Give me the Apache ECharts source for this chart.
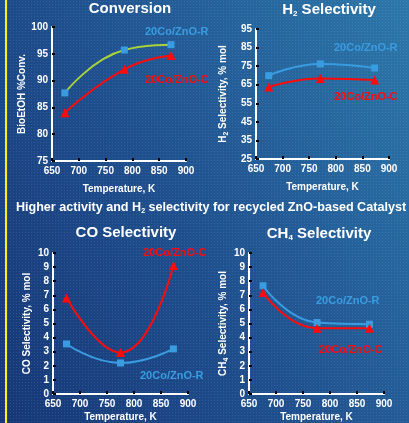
<!DOCTYPE html>
<html><head><meta charset="utf-8">
<script src="https://cdn.jsdelivr.net/npm/echarts@6/dist/echarts.min.js"></script>
<style>
html,body{margin:0;padding:0;width:409px;height:423px;overflow:hidden;}
body{background:linear-gradient(60deg,#163776 0%,#1f4f8e 45%,#2c78aa 100%);}
#dots{position:absolute;left:0;top:0;width:409px;height:423px;
background-image:radial-gradient(rgba(255,255,255,0.10) 0.8px,transparent 0.9px);background-size:3px 3px;}
#bar{position:absolute;left:5px;top:0;width:2px;height:423px;background:#fff000;}
#c{position:absolute;left:0;top:0;width:409px;height:423px;}
</style></head>
<body><div id="dots"></div><div id="bar"></div><div id="c"></div>
<script>
// ---- data ----
const xTicks = [650, 700, 750, 800, 850, 900];
const convX = [674, 785, 872];
const convR = [87.7, 95.7, 96.7];
const convC = [84.0, 92.1, 94.7];
const convTicks = [75, 80, 85, 90, 95, 100];
const h2X = [674, 771, 873];
const h2R = [69.9, 76.2, 74.0];
const h2C = [63.8, 68.4, 67.5];
const h2Ticks = [25, 35, 45, 55, 65, 75, 85, 95];
const coX = [675, 775, 873];
const coR = [3.55, 2.2, 3.2];
const coC = [6.8, 2.94, 9.12];
const ch4X = [676, 776, 873];
const ch4R = [7.68, 5.07, 4.95];
const ch4C = [7.2, 4.67, 4.67];
const selTicks = [0, 1, 2, 3, 4, 5, 6, 7, 8, 9, 10];
const nameR = '20Co/ZnO-R', nameC = '20Co/ZnO-C';

const BLUE = '#3a9ce0', RED = '#ff0a0a', GREEN = '#a8d23a';
const pair = (xs, ys) => xs.map((x, i) => [x, ys[i]]);
const chart = echarts.init(document.getElementById('c'));
const FONT = 'Liberation Sans, Arial, sans-serif';
const rich = { s: { fontSize: 7, fontWeight: 'bold', color: '#fff', padding: [6, 0, 0, 0], fontFamily: FONT } };

const grids = [
  { left: 52, top: 27, width: 134, height: 134 },
  { left: 256, top: 29, width: 133, height: 130 },
  { left: 53, top: 253, width: 135, height: 141 },
  { left: 249, top: 253, width: 135, height: 141 }
];
const yDefs = [
  { min: 75, max: 100, ticks: convTicks, name: 'BioEtOH %Conv.', gap: 24 },
  { min: 25, max: 95, ticks: h2Ticks, name: 'H{s|2} Selectivity, % mol', gap: 26 },
  { min: 0, max: 10, ticks: selTicks, name: 'CO Selectivity, % mol', gap: 21 },
  { min: 0, max: 10, ticks: selTicks, name: 'CH{s|4} Selectivity, % mol', gap: 19 }
];
const axisLine = { show: true, lineStyle: { color: '#fff', width: 2 } };
const tick = { show: true, inside: true, length: 3, lineStyle: { color: '#000', width: 2 } };
const lab = { color: '#fff', fontSize: 10, fontWeight: 'bold', fontFamily: FONT };

const xAxis = grids.map((g, i) => ({
  type: 'value', gridIndex: i, min: 650, max: 900, interval: 50,
  axisLine, axisTick: { ...tick, customValues: xTicks },
  axisLabel: { ...lab, margin: 5, customValues: xTicks }, splitLine: { show: false },
  name: 'Temperature, K', nameLocation: 'middle', nameGap: i < 2 ? 23 : 18,
  nameTextStyle: { color: '#fff', fontSize: 10, fontWeight: 'bold', fontFamily: FONT }
}));
const yAxis = yDefs.map((d, i) => ({
  type: 'value', gridIndex: i, min: d.min, max: d.max,
  axisLine, axisTick: { ...tick, customValues: d.ticks },
  axisLabel: { ...lab, margin: 4, customValues: d.ticks }, splitLine: { show: false },
  name: d.name, nameLocation: 'middle', nameGap: d.gap, nameRotate: 90,
  nameTextStyle: { color: '#fff', fontSize: 10, fontWeight: 'bold', fontFamily: FONT, rich }
}));
function ser(i, xs, ys, color, lineColor, sym, size) {
  return { type: 'line', xAxisIndex: i, yAxisIndex: i, data: pair(xs, ys), smooth: 0.5,
    symbol: sym, symbolSize: size, showSymbol: true,
    itemStyle: { color }, lineStyle: { color: lineColor, width: 2 }, z: 3 };
}
const series = [
  ser(0, convX, convR, BLUE, GREEN, 'rect', 7),
  ser(0, convX, convC, RED, RED, 'triangle', 9),
  ser(1, h2X, h2R, BLUE, BLUE, 'rect', 7),
  ser(1, h2X, h2C, RED, RED, 'triangle', 9),
  ser(2, coX, coR, BLUE, BLUE, 'rect', 7),
  ser(2, coX, coC, RED, RED, 'triangle', 9),
  ser(3, ch4X, ch4R, BLUE, BLUE, 'rect', 7),
  ser(3, ch4X, ch4C, RED, RED, 'triangle', 9)
];
function txt(x, y, text, size, fill, align) {
  return { type: 'text', x, y, z: 10, style: { text, fill, font: 'bold ' + size + 'px ' + FONT,
    textAlign: align || 'center', textVerticalAlign: 'middle',
    rich: { s: { fontSize: Math.round(size * 0.55), fill, fontWeight: 'bold', fontFamily: FONT, padding: [Math.round(size*0.45), 0, 0, 0] },
            n: { fontSize: size, fill, fontWeight: 'bold', fontFamily: FONT } } } };
}
const graphic = [
  txt(130, 9, 'Conversion', 15, '#fff'),
  txt(329, 10, '{n|H}{s|2}{n| Selectivity}', 15, '#fff'),
  txt(126, 233, 'CO Selectivity', 15, '#fff'),
  txt(319, 234, '{n|CH}{s|4}{n| Selectivity}', 15, '#fff'),
  txt(211, 208, '{n|Higher activity and H}{s|2}{n| selectivity for recycled ZnO-based Catalyst}', 12.6, '#fff'),
  txt(145, 32, nameR, 11, BLUE, 'left'),
  txt(145, 80, nameC, 11, RED, 'left'),
  txt(334, 48, nameR, 11, BLUE, 'left'),
  txt(334, 97, nameC, 11, RED, 'left'),
  txt(143, 253, nameC, 11, RED, 'left'),
  txt(140, 376, nameR, 11, BLUE, 'left'),
  txt(316, 301, nameR, 11, BLUE, 'left'),
  txt(319, 350, nameC, 11, RED, 'left')
];
chart.setOption({ backgroundColor: 'transparent', animation: false, grid: grids, xAxis, yAxis, series, graphic });
</script></body></html>
